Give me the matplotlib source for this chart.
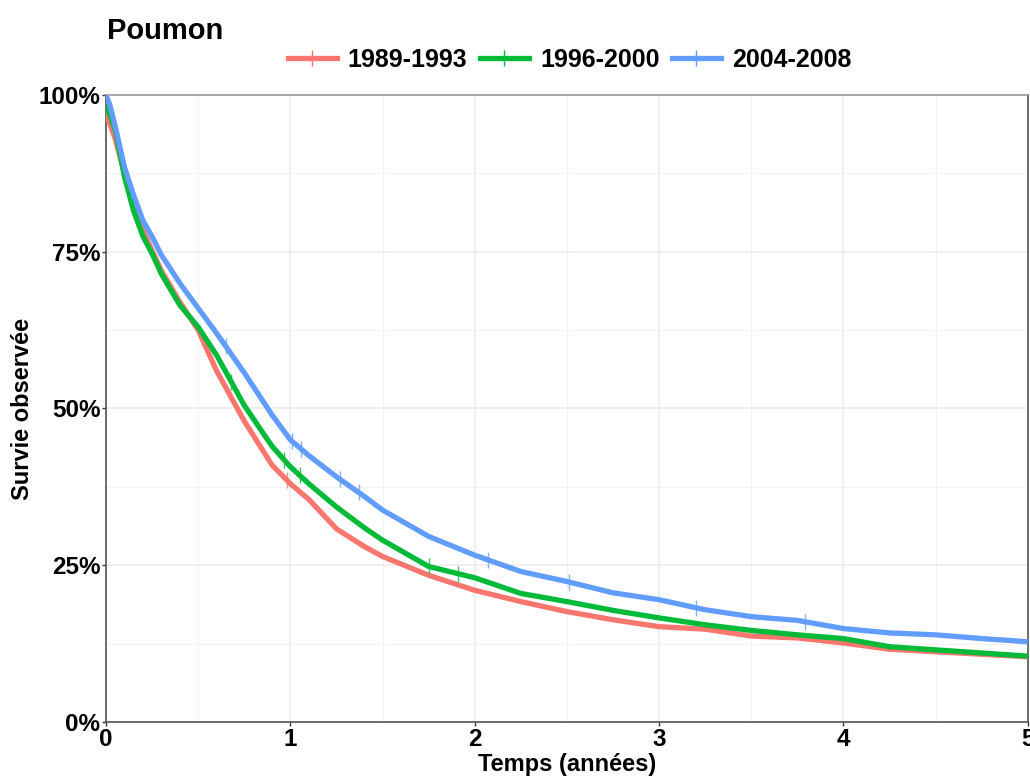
import numpy as np
import matplotlib.pyplot as plt
from matplotlib.lines import Line2D

plt.rcParams['font.family'] = ['Liberation Sans', 'DejaVu Sans']
plt.rcParams['font.weight'] = 'bold'

t = [0, 0.02, 0.05, 0.1, 0.15, 0.2, 0.25, 0.3, 0.4, 0.5, 0.6, 0.75, 0.9, 1.0,
     1.1, 1.25, 1.4, 1.5, 1.75, 2.0, 2.25, 2.5, 2.75, 3.0, 3.25, 3.5, 3.75,
     4.0, 4.25, 4.5, 4.75, 5.0]
s_8993 = [97, 95.5, 93, 87.5, 83, 78.5, 75.2, 72, 67, 62.5, 56, 48, 41, 38,
          35.5, 30.8, 28, 26.4, 23.4, 21, 19.2, 17.6, 16.3, 15.2, 14.8, 13.7,
          13.4, 12.6, 11.6, 11.2, 10.8, 10.4]
s_9600 = [98.5, 97, 94.5, 87, 81.5, 77.5, 74.7, 71.5, 66.5, 63, 58.5, 50.5,
          44, 40.7, 38, 34.3, 31, 29, 24.8, 23, 20.5, 19.2, 17.8, 16.6, 15.5,
          14.6, 13.9, 13.3, 12.0, 11.5, 11.0, 10.5]
s_0408 = [100, 98.5, 95, 88.5, 84, 80, 77.4, 74.5, 70, 66, 62, 55.7, 49, 45,
          42.5, 39.1, 36, 33.8, 29.6, 26.6, 24, 22.4, 20.6, 19.5, 17.9, 16.8,
          16.2, 14.9, 14.2, 13.9, 13.3, 12.8]

# censoring marks (years)
cens_8993 = [0.98]
cens_9600 = [0.68, 0.965, 1.05, 1.75, 1.91]
cens_0408 = [0.65, 1.01, 1.06, 1.27, 1.37, 2.07, 2.51, 3.2, 3.79]

labels = ['1989-1993', '1996-2000', '2004-2008']
colors = ['#F8766D', '#00BA38', '#619CFF']
series = [s_8993, s_9600, s_0408]
censors = [cens_8993, cens_9600, cens_0408]

fig = plt.figure(figsize=(10.3, 7.8), dpi=100)
ax = fig.add_axes([0.1029, 0.0744, 0.895, 0.8038])

for s, c, cz in zip(series, colors, censors):
    ax.plot(t, s, color=c, lw=3.8, solid_capstyle='butt', zorder=3)
    ax.plot(cz, np.interp(cz, t, s), ls='none', marker='|', ms=12, mew=1.0,
            color=c, alpha=0.8, zorder=4)

ax.set_xlim(0, 5)
ax.set_ylim(0, 100)
ax.set_xticks([0, 1, 2, 3, 4, 5])
ax.set_xticks([0.5, 1.5, 2.5, 3.5, 4.5], minor=True)
ax.set_yticks([0, 25, 50, 75, 100])
ax.set_yticks([12.5, 37.5, 62.5, 87.5], minor=True)
ax.set_yticklabels(['0%', '25%', '50%', '75%', '100%'])
ax.grid(which='major', color='#EBEBEB', lw=1.1)
ax.grid(which='minor', color='#F3F3F3', lw=0.8)
ax.set_axisbelow(True)
ax.tick_params(which='major', length=3, width=1, color='#333333',
               labelsize=17.5, pad=1)
ax.tick_params(which='minor', length=0)
for lab in ax.get_xticklabels() + ax.get_yticklabels():
    lab.set_fontweight('bold')
for side in ['left', 'bottom', 'right']:
    ax.spines[side].set_color('#555555')
ax.spines['top'].set_color('#999999')
for sp in ax.spines.values():
    sp.set_linewidth(1.2)

ax.set_xlabel('Temps (années)', fontsize=17, fontweight='bold', labelpad=2)
ax.set_ylabel('Survie observée', fontsize=17, fontweight='bold', labelpad=3)

fig.text(0.104, 0.978, 'Poumon', fontsize=21, fontweight='bold', va='top')

handles = [Line2D([], [], color=c, lw=3.8, marker='|', ms=12, mew=1.0)
           for c in colors]
fig.legend(handles, labels, loc='center', bbox_to_anchor=(0.553, 0.923),
           ncol=3, frameon=False, handlelength=1.95,
           handletextpad=0.45, columnspacing=0.5, borderaxespad=0,
           prop={'weight': 'bold', 'size': 18})

fig.savefig('out.png', dpi=100)
